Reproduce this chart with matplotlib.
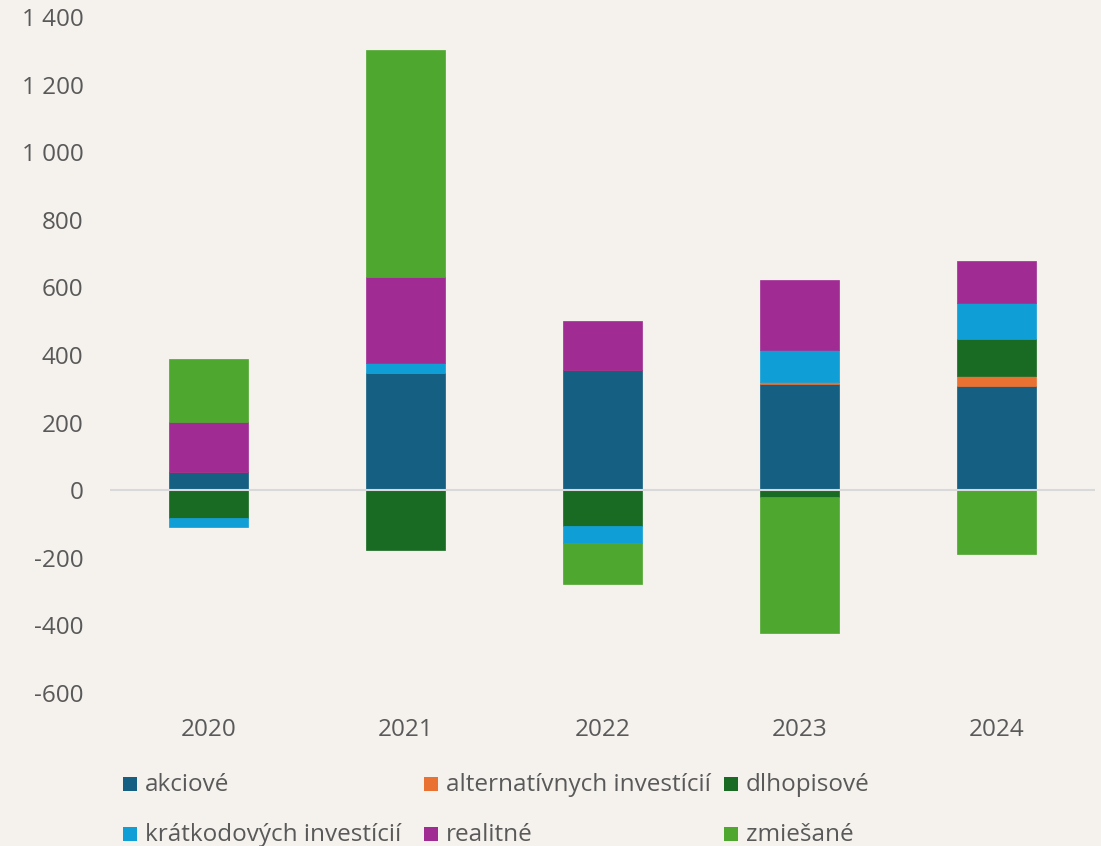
import matplotlib
matplotlib.use('Agg')
from matplotlib import pyplot as plt
from matplotlib.patches import Rectangle
import numpy as np

plt.rcParams['font.family'] = ['Open Sans', 'DejaVu Sans']

years = ['2020', '2021', '2022', '2023', '2024']
series_names = ['akciové', 'alternatívnych investícií', 'dlhopisové',
                'krátkodových investícií', 'realitné', 'zmiešané']
akciove = [54, 346, 357, 314, 307]
alternativne = [0, 0, 0, 6, 32]
dlhopisove = [-82, -176, -106, -20, 108]
kratkodove = [-28, 30, -50, 94, 106]
realitne = [149, 255, 143, 207, 125]
zmiesane = [184, 670, -121, -402, -189]
y_ticks = [-600, -400, -200, 0, 200, 400, 600, 800, 1000, 1200, 1400]

colors = ['#156082', '#E97132', '#196B24', '#0F9ED5', '#A02B93', '#4EA72E']
bg = '#F5F2EE'
txt = '#595959'
W, H = 1101, 846

fig = plt.figure(figsize=(W / 100, H / 100), dpi=100, facecolor=bg)
ax = fig.add_axes([110 / W, 1 - 693 / H, 985 / W, 676 / H])
ax.set_facecolor(bg)

x = np.arange(len(years))
pos_base = np.zeros(len(years))
neg_base = np.zeros(len(years))
all_series = [akciove, alternativne, dlhopisove, kratkodove, realitne, zmiesane]
for vals, col in zip(all_series, colors):
    vals = np.array(vals, dtype=float)
    base = np.where(vals >= 0, pos_base, neg_base)
    ax.bar(x, vals, 0.4, bottom=base, color=col, edgecolor=col, linewidth=0.5, zorder=2)
    pos_base += np.where(vals >= 0, vals, 0)
    neg_base += np.where(vals < 0, vals, 0)

ax.axhline(0, color='#D9D9D9', lw=1.5, zorder=3)
ax.set_xlim(-0.5, 4.5)
ax.set_ylim(-600, 1400)
ax.set_yticks(y_ticks)
ax.set_yticklabels([f'{v:,}'.replace(',', ' ') for v in y_ticks])
ax.set_xticks(x)
ax.set_xticklabels(years)
ax.tick_params(length=0, labelsize=17.5, colors=txt)
ax.tick_params(axis='y', pad=19)
ax.tick_params(axis='x', pad=18)
for s in ax.spines.values():
    s.set_visible(False)

# legend, two rows of three, laid out like the original
leg_pos = {0: (123, 784), 1: (424, 784), 2: (724, 784),
           3: (123, 834), 4: (424, 834), 5: (724, 834)}
for i, name in enumerate(series_names):
    px, py = leg_pos[i]
    fig.patches.append(Rectangle((px / W, 1 - (py + 7) / H), 14 / W, 14 / H,
                                 transform=fig.transFigure, facecolor=colors[i],
                                 edgecolor='none'))
    fig.text((px + 22) / W, 1 - (py + 1) / H, name, fontsize=17.5, color=txt,
             ha='left', va='center')

fig.savefig('out.png', dpi=100, facecolor=bg)
